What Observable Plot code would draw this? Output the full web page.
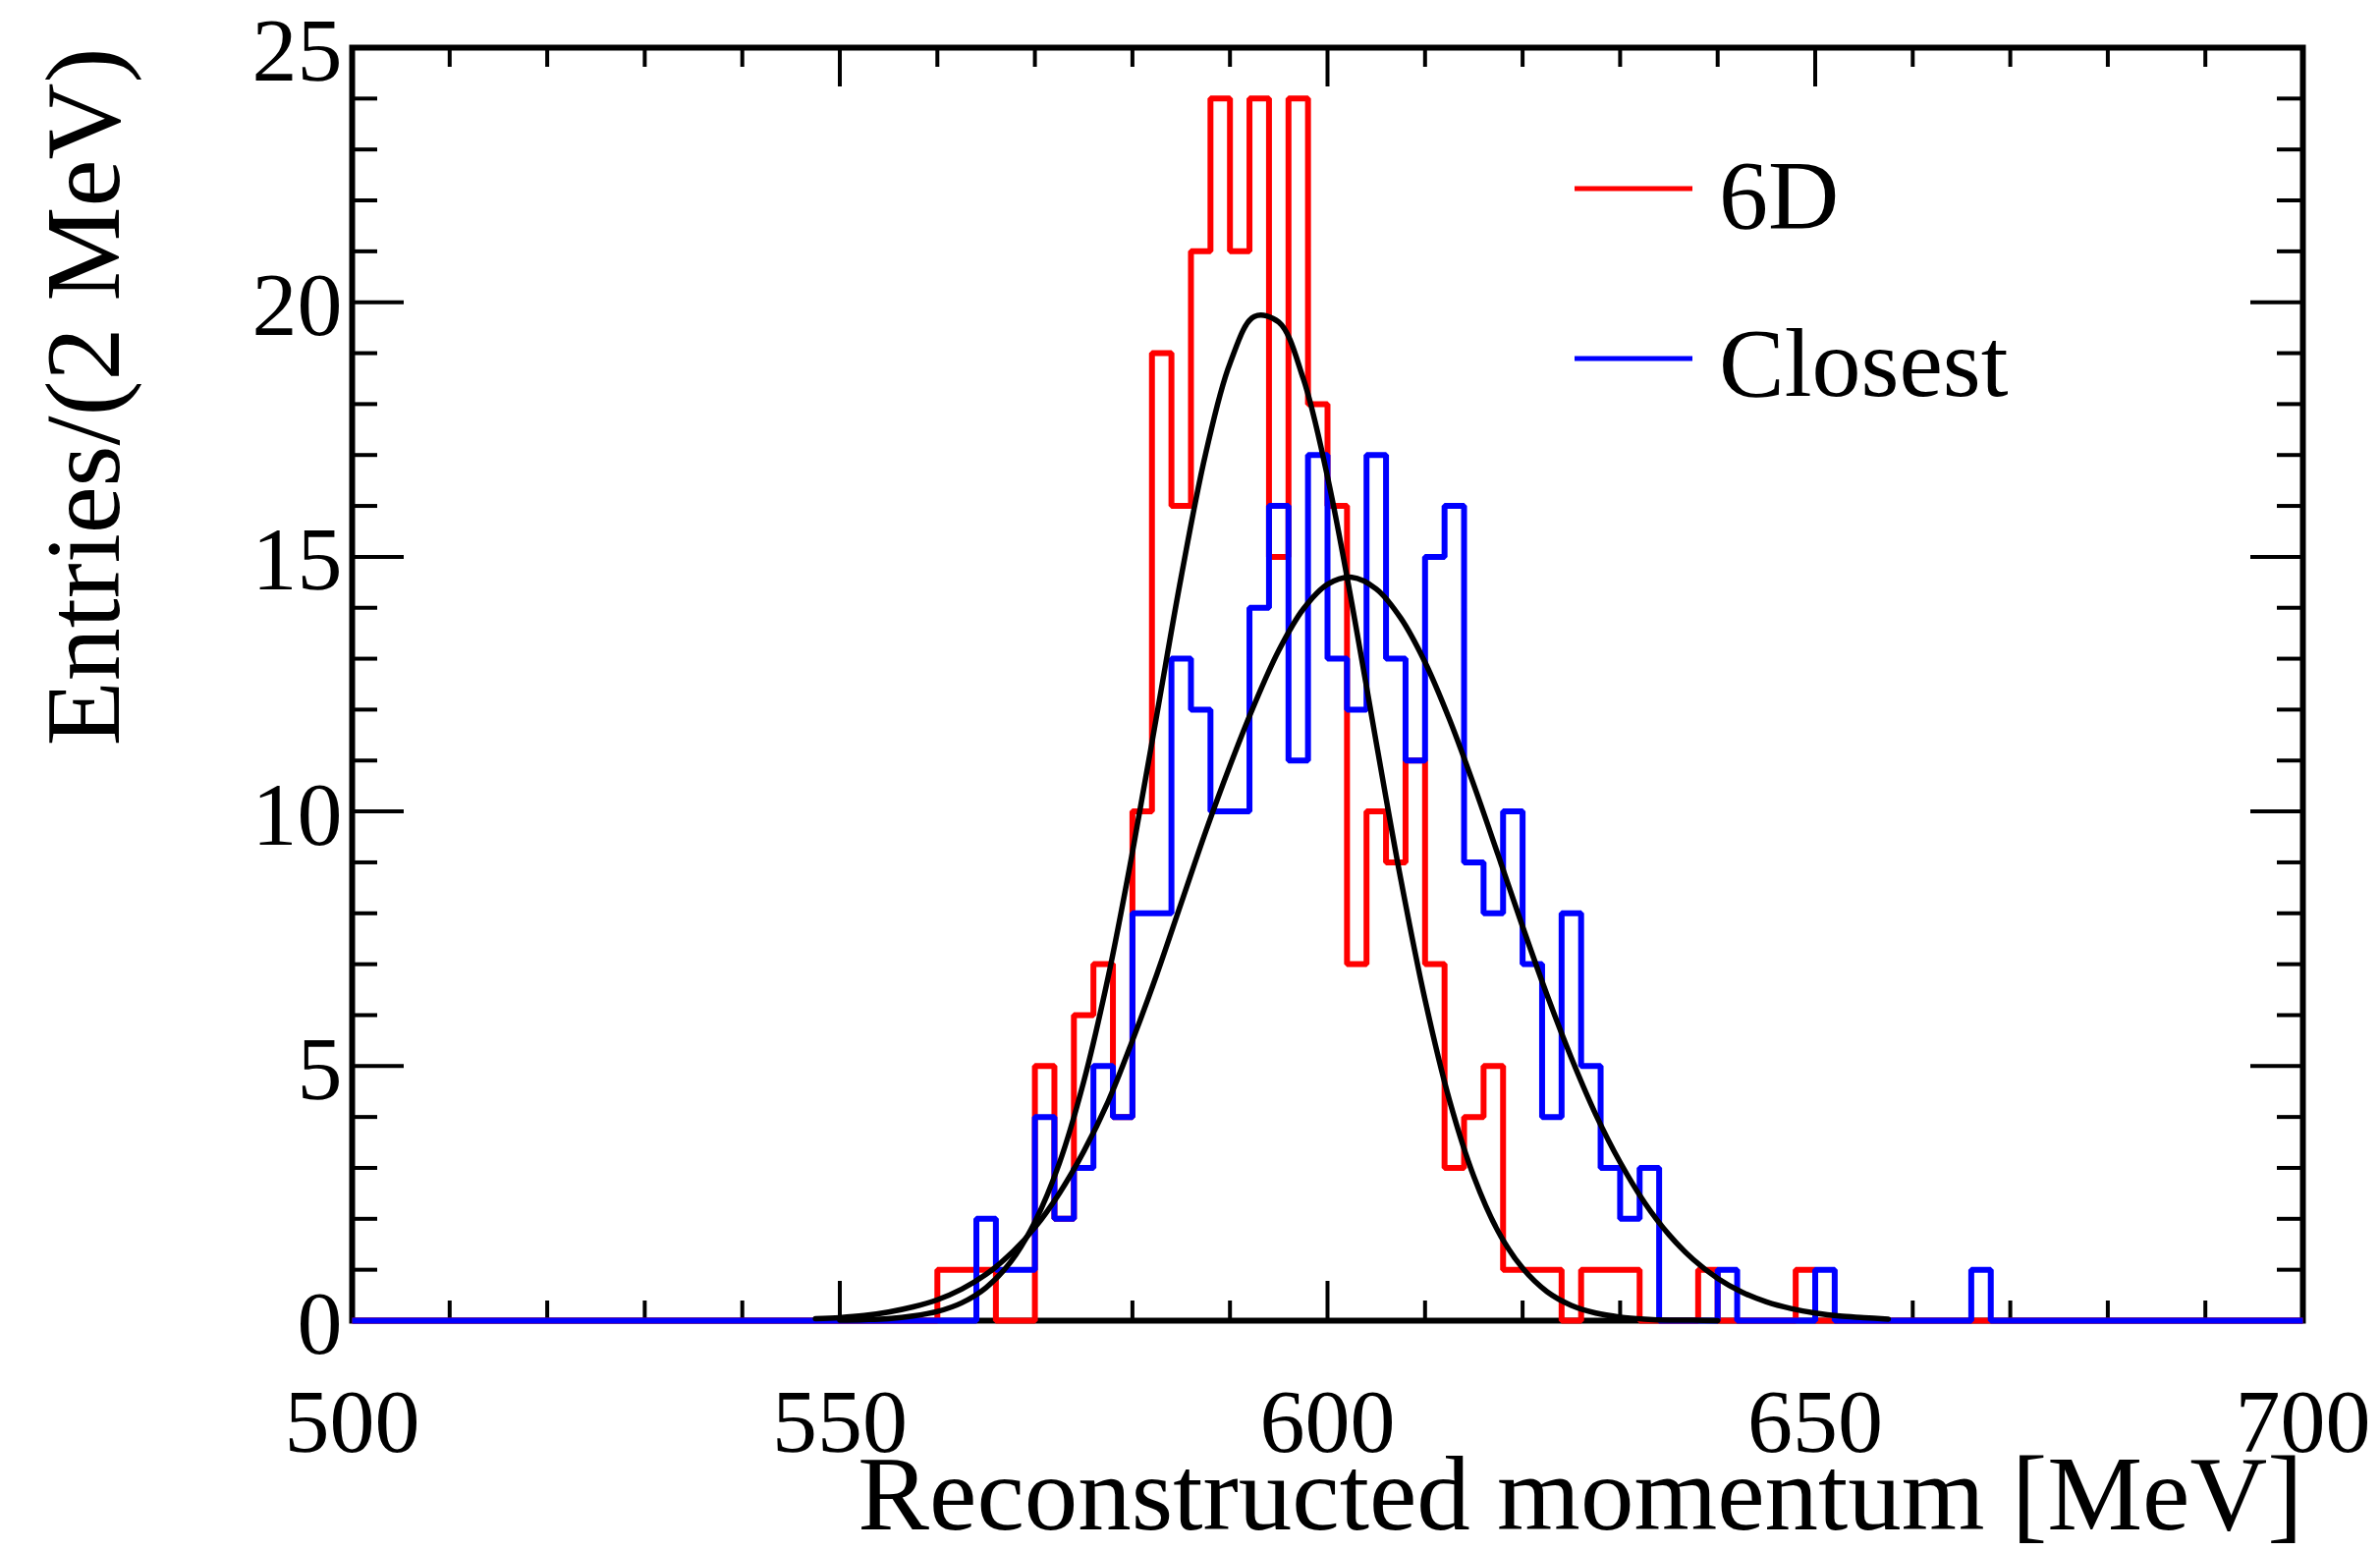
<!DOCTYPE html>
<html>
<head>
<meta charset="utf-8">
<script src="https://cdn.jsdelivr.net/npm/d3@7"></script>
<script src="https://cdn.jsdelivr.net/npm/@observablehq/plot@0.6"></script>
<style>
  html, body { margin: 0; padding: 0; background: #ffffff; }
  #chart svg { display: block; }
</style>
</head>
<body>
<div id="chart"></div>
<script>
// ---------------- data ----------------
const binWidth = 2;                 // MeV per bin
const xMin = 500, xMax = 700;       // histogram range

// 6D histogram: counts per 2-MeV bin, first bin starts at 560 MeV
const redStart = 560;
const redCounts = [1,1,1,0,0,5,2,6,7,4,10,19,16,21,24,21,24,15,24,18,16,7,10,9,11,7,3,4,5,1,1,1,0,1,1,1,0,0,0,1,0,0,0,0,1];

// Closest histogram: counts per 2-MeV bin, first bin starts at 564 MeV
const blueStart = 564;
const blueCounts = [2,1,1,4,2,3,5,4,8,8,13,12,10,10,14,16,11,17,13,12,17,13,11,15,16,9,8,10,7,4,8,5,3,2,3,0,0,0,1,0,0,0,0,1,0,0,0,0,0,0,0,1];

// fitted curves, points
const redFitX = [550,552.5,555,557.5,560,562.5,565,567.5,570,572.5,575,577.5,580,582.5,585,587.5,590,592.5,595,597.5,600,602.5,605,607.5,610,612.5,615,617.5,620,622.5,625,627.5,630,632.5,635,637.5,640];
const redFitY = [0.01,0.02,0.04,0.09,0.18,0.35,0.65,1.15,1.94,3.09,4.69,6.74,9.20,11.90,14.61,17.02,18.80,19.72,19.61,18.51,16.57,14.08,11.35,8.68,6.30,4.33,2.83,1.75,1.03,0.57,0.30,0.15,0.07,0.03,0.01,0.01,0.00];

const blueFitX = [547.5,550,552.5,555,557.5,560,562.5,565,567.5,570,572.5,575,577.5,580,582.5,585,587.5,590,592.5,595,597.5,600,602.5,605,607.5,610,612.5,615,617.5,620,622.5,625,627.5,630,632.5,635,637.5,640,642.5,645,647.5,650,652.5,655,657.5];
const blueFitY = [0.04,0.06,0.10,0.17,0.27,0.41,0.62,0.91,1.31,1.83,2.50,3.32,4.30,5.50,6.80,8.20,9.60,10.90,12.10,13.16,13.97,14.46,14.60,14.37,13.80,12.93,11.81,10.52,9.14,7.74,6.40,5.16,4.05,3.11,2.32,1.69,1.20,0.83,0.56,0.37,0.24,0.15,0.09,0.06,0.03];

// axis ticks and labels
const xMajorTicks = [500,550,600,650,700];
const yMajorTicks = [0,5,10,15,20,25];
const seriesNames = ["6D", "Closest"];
const seriesColors = ["#ff0000", "#0000ff"];
const xTitle = "Reconstructed momentum [MeV]";
const yTitle = "Entries/(2 MeV)";

// ---------------- layout ----------------
const W = 2423, H = 1579;
const mL = 358, mR = 79, mT = 48, mB = 235;
const innerW = W - mL - mR, innerH = H - mT - mB;
const xMinorTicks = d3.range(500, 701, 10).filter(v => v % 50 !== 0);
const yMinorTicks = d3.range(0, 26, 1).filter(v => v % 5 !== 0);
const font = "'Liberation Serif', 'Times New Roman', serif";

function stepPoints(start, counts) {
  const pts = [];
  for (let e = xMin; e < xMax; e += binWidth) {
    const i = Math.round((e - start) / binWidth);
    const c = (i >= 0 && i < counts.length) ? counts[i] : 0;
    pts.push({x: e, y: c});
  }
  pts.push({x: xMax, y: 0});
  return pts;
}
const redSteps = stepPoints(redStart, redCounts);
const blueSteps = stepPoints(blueStart, blueCounts);
const redFit = redFitX.map((x, i) => ({x, y: redFitY[i]}));
const blueFit = blueFitX.map((x, i) => ({x, y: blueFitY[i]}));

function legendMark() {
  const g = d3.create("svg:g");
  const x0 = mL + 1245, lineLen = 120, textX = mL + 1392;
  const lineY = [mT + 144, mT + 317];
  const textY = [mT + 184, mT + 355];
  seriesNames.forEach((name, i) => {
    g.append("line")
      .attr("x1", x0).attr("x2", x0 + lineLen)
      .attr("y1", lineY[i]).attr("y2", lineY[i])
      .attr("stroke", seriesColors[i]).attr("stroke-width", 5);
    g.append("text")
      .attr("x", textX).attr("y", textY[i])
      .attr("text-anchor", "start")
      .attr("font-family", font).attr("font-size", 100)
      .attr("fill", "black")
      .text(name);
  });
  return g.node();
}

const tickStyle = {stroke: "black", strokeWidth: 4};

const chart = Plot.plot({
  width: W, height: H,
  marginLeft: mL, marginRight: mR, marginTop: mT, marginBottom: mB,
  style: {fontFamily: font, fontSize: "92px", background: "#ffffff", color: "black"},
  x: {domain: [xMin, xMax]},
  y: {domain: [0, 25]},
  marks: [
    // inward ticks on all four sides
    Plot.tickX(xMajorTicks, {x: d => d, insetTop: innerH - 40, ...tickStyle}),
    Plot.tickX(xMinorTicks, {x: d => d, insetTop: innerH - 20, ...tickStyle}),
    Plot.tickX(xMajorTicks, {x: d => d, insetBottom: innerH - 40, ...tickStyle}),
    Plot.tickX(xMinorTicks, {x: d => d, insetBottom: innerH - 20, ...tickStyle}),
    Plot.tickY(yMajorTicks, {y: d => d, insetRight: innerW - 53, ...tickStyle}),
    Plot.tickY(yMinorTicks, {y: d => d, insetRight: innerW - 26, ...tickStyle}),
    Plot.tickY(yMajorTicks, {y: d => d, insetLeft: innerW - 53, ...tickStyle}),
    Plot.tickY(yMinorTicks, {y: d => d, insetLeft: innerW - 26, ...tickStyle}),
    Plot.frame({stroke: "black", strokeWidth: 6}),
    Plot.axisX({ticks: xMajorTicks, tickSize: 0, tickPadding: 68, fontSize: 92, label: null, tickFormat: d => String(d)}),
    Plot.axisY({ticks: yMajorTicks, tickSize: 0, tickPadding: 10, fontSize: 92, label: null, dy: 4, tickFormat: d => String(d)}),
    // histograms
    Plot.line(redSteps, {x: "x", y: "y", curve: "step-after", stroke: seriesColors[0], strokeWidth: 6, strokeLinejoin: "miter", strokeLinecap: "butt"}),
    Plot.line(blueSteps, {x: "x", y: "y", curve: "step-after", stroke: seriesColors[1], strokeWidth: 6, strokeLinejoin: "miter", strokeLinecap: "butt"}),
    // fits
    Plot.line(redFit, {x: "x", y: "y", curve: "catmull-rom", stroke: "black", strokeWidth: 5.5}),
    Plot.line(blueFit, {x: "x", y: "y", curve: "catmull-rom", stroke: "black", strokeWidth: 5.5}),
    // axis titles
    Plot.text([xTitle], {frameAnchor: "bottom-right", textAnchor: "end", dy: 212, fontSize: 109, fill: "black"}),
    Plot.text([yTitle], {frameAnchor: "top-left", textAnchor: "end", rotate: -90, dx: -314, dy: 0, fontSize: 108, fill: "black"}),
    legendMark
  ]
});
document.getElementById("chart").appendChild(chart);
</script>
</body>
</html>
